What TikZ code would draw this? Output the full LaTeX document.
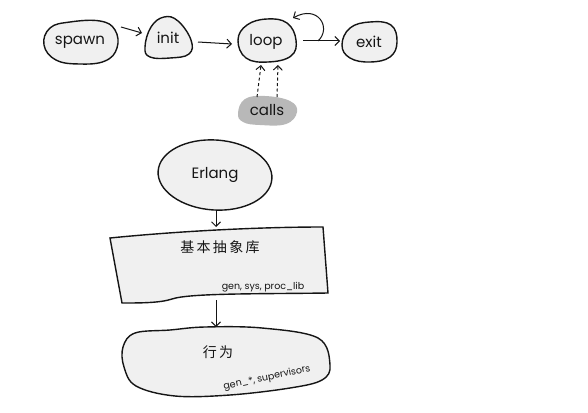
\documentclass[tikz,border=0pt]{standalone}
\usepackage{fontspec}
\setmainfont{Poppins}
\newfontfamily\cjk{Noto Sans CJK SC}
\usetikzlibrary{arrows.meta,shapes.geometric,calc}
\definecolor{ink}{HTML}{151515}
\definecolor{blobfill}{HTML}{F0F0F0}
\definecolor{callsfill}{HTML}{B8B8B8}
\begin{document}
\begin{tikzpicture}[x=1pt,y=-1pt,
  blob/.style={draw=ink, fill=blobfill, line width=1.4pt},
  lbl/.style={font=\fontsize{15}{15}\selectfont, text=ink, inner sep=0pt},
  small/.style={font=\fontsize{9.5}{9.5}\selectfont, text=ink, inner sep=0pt},
  cjklbl/.style={font=\cjk\fontsize{14}{14}\selectfont, text=ink, inner sep=0pt},
  conn/.style={draw=ink, line width=1pt, -{Straight Barb[length=4.5pt,width=9pt]}},
  dconn/.style={conn, dash pattern=on 3pt off 2.5pt},
]
\useasboundingbox[fill=white] (0,0) rectangle (588,412);

% blobs (top row)
\draw[blob] plot[smooth cycle, tension=0.7] coordinates {(44,45) (50,28) (70,22) (100,21) (115,30) (117,48) (105,61) (80,64) (56,60)};
\draw[blob] plot[smooth cycle, tension=0.7] coordinates {(145,47) (151,27) (164,17) (178,21) (191,40) (189,54) (170,58) (150,57)};
\draw[blob] plot[smooth cycle, tension=0.7] coordinates {(238,40) (247,25) (267,19) (287,23) (296,40) (291,56) (268,62) (246,58)};
\draw[blob] plot[smooth cycle, tension=0.7] coordinates {(342,45) (350,28) (370,22) (391,25) (397,42) (390,57) (370,62) (350,58)};
\fill[callsfill] plot[smooth cycle, tension=0.7] coordinates {(238,113) (245,99) (265,96) (290,101) (297,112) (286,124) (260,125) (243,122)};

% bottom shapes
\draw[blob, rotate around={-4:(215,175)}] (215,175) ellipse [x radius=57, y radius=35];
\draw[blob] (110,238) .. controls (180,231) and (260,227) .. (323,227)
  -- (328,293) .. controls (260,294) and (190,293) .. (172,299)
  .. controls (160,303) and (140,303) .. (122,303) -- cycle;
\draw[blob] plot[smooth cycle, tension=0.6] coordinates {(123,347) (135,333) (170,330) (205,327) (262,328) (318,338) (330,365) (322,380) (290,388) (230,395) (175,396) (136,386) (124,367)};

% nodes
\node[lbl] (spawn) at (80,42) {spawn};
\node[lbl] (init) at (168,38) {init};
\node[lbl] (loop) at (266,42) {loop};
\node[lbl] (exit) at (369,42) {exit};
\node[lbl] (calls) at (267,110) {calls};
\node[lbl] (erlang) at (215,175) {Erlang};
\node[cjklbl] (lib) at (220,247) {基\,本\,抽\,象\,库};
\node[small] (libsub) at (263,287) {gen, sys, proc\_lib};
\node[cjklbl] (beh) at (218,352) {行\,为};
\node[small, rotate=12] (behsub) at (267,378) {gen\_*, supervisors};

% connectors
\draw[conn] ($(spawn.center)+(41,-15)$) -- ($(init.center)+(-26,-5)$);
\draw[conn] ($(init.center)+(30,4)$) -- ($(loop.center)+(-34,2)$);
\draw[conn] ($(loop.center)+(37,-1)$) -- ($(exit.center)+(-29,-1)$);
\draw[conn] ($(loop.center)+(52,-1)$) .. controls ($(loop.center)+(66,-14)$) and ($(loop.center)+(52,-38)$) .. ($(loop.center)+(27,-24)$);
\draw[dconn] ($(calls.center)+(-10,-13)$) -- ($(loop.center)+(-5,23)$);
\draw[dconn] ($(calls.center)+(10,-13)$) -- ($(loop.center)+(12,23)$);
\draw[conn] ($(erlang.center)+(1,36)$) -- ($(lib.center)+(-4,-20)$);
\draw[conn] ($(libsub.center)+(-47,13)$) -- ($(beh.center)+(-2,-25)$);
\end{tikzpicture}
\end{document}
